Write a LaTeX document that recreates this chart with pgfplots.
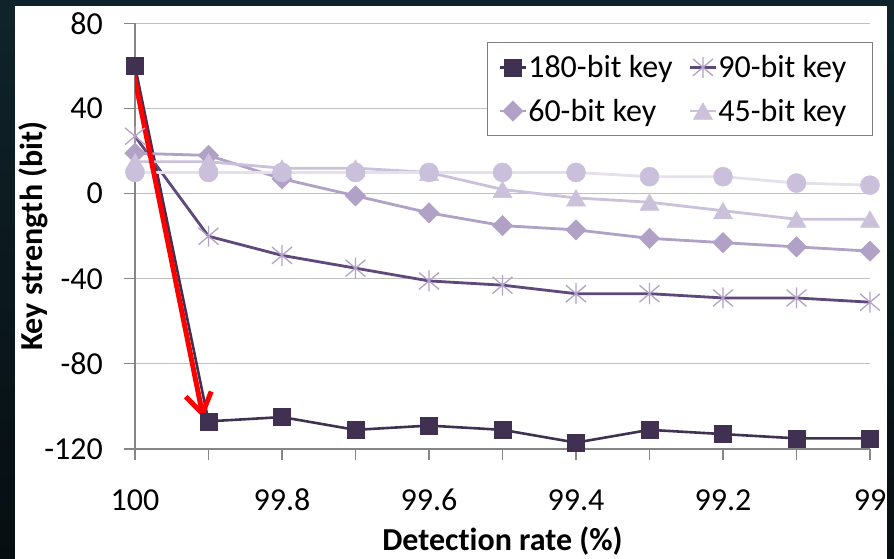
\documentclass[border=0pt]{standalone}
\usepackage{fontspec}
\setmainfont{Carlito}[Ligatures=NoCommon]
\usepackage{pgfplots}
\usepackage{pgfplotstable}
\pgfplotsset{compat=1.18}
\usetikzlibrary{arrows.meta}

\definecolor{bgtop}{HTML}{10232B}
\definecolor{bgbot}{HTML}{060E11}
\definecolor{gridgray}{HTML}{C0C0C0}
\definecolor{axisgray}{HTML}{868686}
\definecolor{legendgray}{HTML}{7F7F7F}
\definecolor{cA}{HTML}{403152}
\definecolor{cBline}{HTML}{5F497A}
\definecolor{cBmark}{HTML}{B3A2C7}
\definecolor{cC}{HTML}{B2A1C7}
\definecolor{cD}{HTML}{CCC1DA}
\definecolor{cEline}{HTML}{E5E0EC}
\definecolor{cEmark}{HTML}{CBC0DB}

% six-armed star: one upright stroke crossed by an X
\pgfdeclareplotmark{xstar}{%
  \pgfpathmoveto{\pgfqpoint{0pt}{\pgfplotmarksize}}%
  \pgfpathlineto{\pgfqpoint{0pt}{-\pgfplotmarksize}}%
  \pgfpathmoveto{\pgfqpoint{-0.95\pgfplotmarksize}{0.8\pgfplotmarksize}}%
  \pgfpathlineto{\pgfqpoint{0.95\pgfplotmarksize}{-0.8\pgfplotmarksize}}%
  \pgfpathmoveto{\pgfqpoint{-0.95\pgfplotmarksize}{-0.8\pgfplotmarksize}}%
  \pgfpathlineto{\pgfqpoint{0.95\pgfplotmarksize}{0.8\pgfplotmarksize}}%
  \pgfusepathqstroke}

% key strength (bit) against detection rate (%)
\pgfplotstableread{
rate   k180  k90  k60  k45  s5
100     60    27   19   15  10
99.9  -107   -20   18   15  10
99.8  -105   -29    7   12  10
99.7  -111   -35   -1   12  10
99.6  -109   -41   -9   10  10
99.5  -111   -43  -15    2  10
99.4  -117   -47  -17   -2  10
99.3  -111   -47  -21   -4   8
99.2  -113   -49  -23   -8   8
99.1  -115   -49  -25  -12   5
99.0  -115   -51  -27  -12   4
}\keydata

\newcommand{\bigfont}{\fontsize{32}{38}\selectfont}

\begin{document}
\begin{tikzpicture}
% dark surround and white panel
\shade[top color=bgtop, bottom color=bgbot] (0pt,0pt) rectangle (894pt,559pt);
\fill[white] (15pt,0pt) rectangle (887pt,552.5pt);

\begin{axis}[
  at={(135pt,110pt)}, anchor=south west,
  scale only axis, width=735pt, height=425.5pt,
  x dir=reverse,
  xmin=99, xmax=100, ymin=-120, ymax=80,
  axis x line*=bottom, axis y line*=left,
  axis line style={color=axisgray, line width=1.2pt},
  xtick={99,99.2,99.4,99.6,99.8,100},
  xticklabels={99,99.2,99.4,99.6,99.8,100},
  minor xtick={99.1,99.3,99.5,99.7,99.9},
  ytick={-120,-80,-40,0,40,80},
  yticklabels={-120,-80,-40,0,40,80},
  tick align=outside,
  major tick length=10.5pt, minor tick length=10.5pt,
  tick style={color=axisgray, line width=1.2pt},
  ymajorgrids,
  grid style={color=gridgray, line width=1.2pt},
  ticklabel style={font=\bigfont, inner sep=0pt},
  /pgf/number format/assume math mode=true,
  xticklabel style={anchor=base, yshift=-50.5pt},
  yticklabel style={anchor=east, xshift=-21.5pt},
  xlabel={Detection rate (\%)},
  ylabel={Key strength (bit)},
  xlabel style={font=\bfseries\bigfont, at={(axis description cs:0.5,-0.2385)}, anchor=base},
  ylabel style={font=\bfseries\bigfont, at={(axis description cs:-0.1252,0.5)}, anchor=base},
  legend columns=2,
  legend cell align=left,
  legend image code/.code={%
    \draw[mark repeat=2, mark phase=2, #1] plot coordinates {(0pt,0pt) (13pt,0pt) (26pt,0pt)};},
  legend style={at={(axis description cs:1.004,0.9565)}, anchor=north east,
    draw=legendgray, line width=1pt, font=\bigfont,
    nodes={inner xsep=1pt, inner ysep=1pt},
    inner xsep=11pt, inner ysep=12pt, row sep=18pt,
    /tikz/every even column/.append style={column sep=15pt}},
]
\addplot[color=cA, line width=2.6pt, mark=square*, mark size=8.5pt,
  mark options={fill=cA, draw=cA, line width=0.5pt}]
  table[x=rate, y=k180] {\keydata};
\addlegendentry{180-bit key}
\addplot[color=cBline, line width=2.8pt, mark=xstar, mark size=10.5pt,
  mark options={draw=cBmark, line width=1.3pt}]
  table[x=rate, y=k90] {\keydata};
\addlegendentry{90-bit key\kern14pt}
\addplot[color=cC, line width=2.8pt, mark=square*, mark size=7.2pt,
  mark options={fill=cC, draw=cC, rotate=45, line width=0.5pt}]
  table[x=rate, y=k60] {\keydata};
\addlegendentry{60-bit key}
\addplot[color=cD, line width=2.8pt, mark=triangle*, mark size=11pt,
  mark options={fill=cD, draw=cD, line width=0.5pt, yshift=-2.7pt}]
  table[x=rate, y=k45] {\keydata};
\addlegendentry{45-bit key}
\addplot[color=cEline, line width=2.8pt, mark=*, mark size=9.5pt,
  mark options={fill=cEmark, draw=cEmark, line width=0.5pt}, forget plot]
  table[x=rate, y=s5] {\keydata};

% red pointer from the first to the second 180-bit value
\draw[color=red, line width=5pt, -{Straight Barb[length=20pt, width=26pt]}]
  (axis cs:100.004,60.5) -- (axis cs:99.907,-105.5);
\end{axis}

\pgfresetboundingbox
\useasboundingbox (0pt,0pt) rectangle (894pt,559pt);
\end{tikzpicture}
\end{document}
